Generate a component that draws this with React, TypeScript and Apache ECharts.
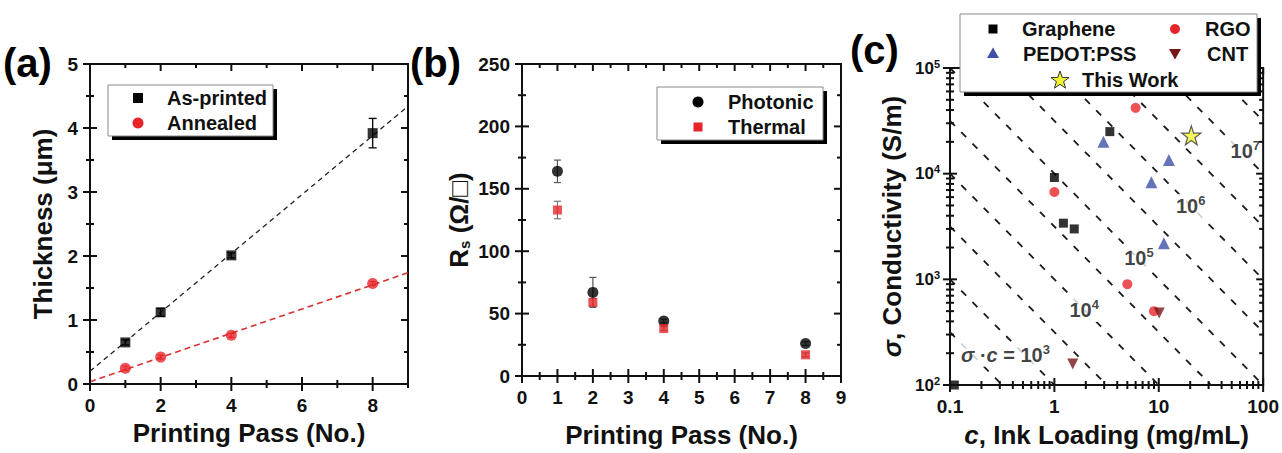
import React, { useEffect, useRef } from "react";
import * as echarts from "echarts";

const FONT = '"Liberation Sans", Arial, Helvetica, sans-serif';
const INK = "#111";
const RED = "#e6252a";
const BLUE = "#3f51a8";
const DARKRED = "#7a1518";
const YELLOW = "#f3f235";

// ---------- Panel (a): thickness vs printing pass ----------
const passA = [1, 2, 4, 8];
const asPrinted = [0.65, 1.12, 2.01, 3.92];
const asPrintedErr = [0.04, 0.06, 0.04, 0.23];
const annealed = [0.245, 0.42, 0.76, 1.57];
const annealedErr = [0.03, 0.03, 0.03, 0.03];
const fitAsPrinted = [
  [0, 0.2],
  [9, 4.34],
];
const fitAnnealed = [
  [0, 0.035],
  [9, 1.74],
];
const ticksAx = [0, 1, 2, 3, 4, 5, 6, 7, 8, 9];
const majorsAx = [0, 2, 4, 6, 8];
const ticksAy = [0, 0.5, 1, 1.5, 2, 2.5, 3, 3.5, 4, 4.5, 5];
const majorsAy = [0, 1, 2, 3, 4, 5];

// ---------- Panel (b): sheet resistance vs printing pass ----------
const passB = [1, 2, 4, 8];
const photonic = [164, 67, 44, 26];
const photonicErr = [9, 12, 1.5, 1.5];
const thermal = [133, 59, 38, 17];
const thermalErr = [7, 3, 1.5, 1.5];
const ticksBx = [0, 0.5, 1, 1.5, 2, 2.5, 3, 3.5, 4, 4.5, 5, 5.5, 6, 6.5, 7, 7.5, 8, 8.5, 9];
const majorsBx = [0, 1, 2, 3, 4, 5, 6, 7, 8, 9];
const ticksBy = [0, 25, 50, 75, 100, 125, 150, 175, 200, 225, 250];
const majorsBy = [0, 50, 100, 150, 200, 250];

// ---------- Panel (c): conductivity vs ink loading ----------
const graphene = [
  [0.11, 100],
  [1, 9200],
  [1.22, 3400],
  [1.55, 3000],
  [3.4, 25000],
];
const rgo = [
  [1, 6700],
  [6.0, 42000],
  [5.0, 900],
  [9.0, 500],
];
const pedot = [
  [2.95, 20000],
  [8.5, 8300],
  [12.5, 13500],
  [11.2, 2200],
];
const cnt = [
  [10.1, 480],
  [1.5, 158],
];
const thisWork = [[20.5, 23000]];
// exponents (plot units) of the iso sigma*c guide lines
const guideExponents = [1.5, 2, 2.5, 3, 3.5, 4, 4.5, 5, 5.5, 6, 6.5];
const guideLabelText = [
  "{i|σ}{t| ·}{i|c}{t| = 10}{sup|3}",
  "{t|10}{sup|4}",
  "{t|10}{sup|5}",
  "{t|10}{sup|6}",
  "{t|10}{sup|7}",
];
const guideLabelPos = [
  [0.34, 193],
  [1.93, 513],
  [6.45, 1590],
  [20.2, 4940],
  [67.4, 16400],
];
const cDecades = [0.1, 1, 10, 100];
const sigmaDecades = [100, 1000, 10000, 100000];
const logMinorMultipliers = [2, 3, 4, 5, 6, 7, 8, 9];

const STAR =
  "path://M50,0 L61.8,35.4 L99,35.4 L69,57.3 L80.3,92.7 L50,70.8 L19.7,92.7 L31,57.3 L1,35.4 L38.2,35.4 Z";

const tickLabel = {
  color: INK,
  fontFamily: FONT,
  fontWeight: "bold" as const,
  fontSize: 19,
};
const nameStyle = {
  color: INK,
  fontFamily: FONT,
  fontWeight: "bold" as const,
  fontSize: 26,
};

function makeAxis(dim: "x" | "y", o: any) {
  const ax: any = {
    type: o.type || "value",
    gridIndex: o.grid,
    position: dim === "x" ? "bottom" : "left",
    min: o.min,
    max: o.max,
    axisLine: { show: true, onZero: false, lineStyle: { color: INK, width: 2 } },
    axisTick: { show: false },
    minorTick: { show: false },
    splitLine: { show: false },
    minorSplitLine: { show: false },
    axisLabel: { show: true, margin: o.labelMargin ?? 12, ...tickLabel, ...(o.label || {}) },
    name: o.name,
    nameLocation: "middle",
    nameGap: o.nameGap,
    nameTextStyle: { ...nameStyle, ...(o.nameStyle || {}) },
  };
  if (o.type === "log") ax.logBase = 10;
  else ax.interval = o.interval;
  return ax;
}

// axis ticks placed through the axis scales: crossing on left/bottom, inward on top/right
function tickSeries(
  ai: number,
  dim: "x" | "y",
  values: number[],
  majors: number[],
  otherMin: number,
  otherMax: number
) {
  return {
    type: "custom",
    xAxisIndex: ai,
    yAxisIndex: ai,
    silent: true,
    clip: false,
    z: 8,
    encode: { x: 0, y: 1 },
    data: values.map((v) => (dim === "x" ? [v, otherMin] : [otherMin, v])),
    renderItem: (_p: any, api: any) => {
      const v = api.value(dim === "x" ? 0 : 1);
      const isMajor = majors.indexOf(v) >= 0;
      const L = isMajor ? 7 : 4;
      const st = { stroke: INK, lineWidth: 2 };
      if (dim === "x") {
        const b = api.coord([v, otherMin]);
        const t = api.coord([v, otherMax]);
        return {
          type: "group",
          children: [
            { type: "line", shape: { x1: b[0], y1: b[1] - L, x2: b[0], y2: b[1] + L }, style: st },
            { type: "line", shape: { x1: t[0], y1: t[1], x2: t[0], y2: t[1] + L }, style: { ...st } },
          ],
        };
      }
      const l = api.coord([otherMin, v]);
      const r = api.coord([otherMax, v]);
      return {
        type: "group",
        children: [
          { type: "line", shape: { x1: l[0] - L, y1: l[1], x2: l[0] + L, y2: l[1] }, style: st },
          { type: "line", shape: { x1: r[0] - L, y1: r[1], x2: r[0], y2: r[1] }, style: { ...st } },
        ],
      };
    },
  };
}

function errSeries(
  ai: number,
  xs: number[],
  ys: number[],
  errs: number[],
  color: string,
  width: number,
  cap: number
) {
  return {
    type: "custom",
    xAxisIndex: ai,
    yAxisIndex: ai,
    silent: true,
    z: 3,
    encode: { x: 0, y: [1, 2] },
    data: xs.map((x, i) => [x, ys[i] - errs[i], ys[i] + errs[i]]),
    renderItem: (_p: any, api: any) => {
      const x = api.value(0);
      const lo = api.coord([x, api.value(1)]);
      const hi = api.coord([x, api.value(2)]);
      const st = { stroke: color, lineWidth: width };
      return {
        type: "group",
        children: [
          { type: "line", shape: { x1: lo[0], y1: lo[1], x2: hi[0], y2: hi[1] }, style: st },
          { type: "line", shape: { x1: lo[0] - cap, y1: lo[1], x2: lo[0] + cap, y2: lo[1] }, style: st },
          { type: "line", shape: { x1: hi[0] - cap, y1: hi[1], x2: hi[0] + cap, y2: hi[1] }, style: st },
        ],
      };
    },
  };
}

function legendBox(x: number, y: number, w: number, h: number) {
  return [
    { type: "rect", z: 100, shape: { x: x + 4, y: y + 4, width: w, height: h }, style: { fill: "#000" } },
    {
      type: "rect",
      z: 101,
      shape: { x, y, width: w, height: h },
      style: { fill: "#fff", stroke: "#8a8a8a", lineWidth: 1 },
    },
  ];
}

function legendText(text: string, x: number, y: number) {
  return {
    type: "text",
    z: 102,
    style: {
      text,
      x,
      y,
      fill: INK,
      font: `bold 20px ${FONT}`,
      textAlign: "left",
      textVerticalAlign: "middle",
    },
  };
}

function starPoints(cx: number, cy: number, R: number) {
  const pts: number[][] = [];
  for (let i = 0; i < 10; i++) {
    const r = i % 2 === 0 ? R : R * 0.4;
    const a = -Math.PI / 2 + (i * Math.PI) / 5;
    pts.push([cx + r * Math.cos(a), cy + r * Math.sin(a)]);
  }
  return pts;
}

function logTicks(decades: number[]) {
  const out: number[] = [...decades];
  decades.slice(0, -1).forEach((d) => logMinorMultipliers.forEach((m) => out.push(m * d)));
  return out;
}

function buildOption(): any {
  const xAxis = [
    makeAxis("x", {
      grid: 0,
      min: 0,
      max: 9,
      interval: 2,
      name: "Printing Pass (No.)",
      nameGap: 36,
      label: { showMaxLabel: false },
    }),
    makeAxis("x", { grid: 1, min: 0, max: 9, interval: 1, name: "Printing Pass (No.)", nameGap: 46 }),
    makeAxis("x", {
      grid: 2,
      type: "log",
      min: 0.1,
      max: 100,
      name: "{i|c}, Ink Loading (mg/mL)",
      nameGap: 37,
      nameStyle: {
        rich: { i: { fontFamily: FONT, fontWeight: "bold", fontStyle: "italic", fontSize: 26, color: INK } },
      },
      label: {
        formatter: (v: number) => (v >= 1 ? String(Math.round(v)) : String(Number(v.toPrecision(2)))),
      },
    }),
  ];
  const yAxis = [
    makeAxis("y", { grid: 0, min: 0, max: 5, interval: 1, name: "Thickness (μm)", nameGap: 34 }),
    makeAxis("y", {
      grid: 1,
      min: 0,
      max: 250,
      interval: 50,
      name: "R{sub|s} (Ω/□)",
      nameGap: 50,
      nameStyle: {
        rich: {
          sub: { fontFamily: FONT, fontWeight: "bold", fontSize: 15, color: INK, verticalAlign: "bottom", lineHeight: 14 },
        },
      },
    }),
    makeAxis("y", {
      grid: 2,
      type: "log",
      min: 100,
      max: 100000,
      labelMargin: 10,
      name: "{i|σ}, Conductivity (S/m)",
      nameGap: 45,
      nameStyle: {
        rich: { i: { fontFamily: FONT, fontWeight: "bold", fontStyle: "italic", fontSize: 26, color: INK } },
      },
      label: {
        formatter: (v: number) => `{b|10}{s|${Math.round(Math.log10(v))}}`,
        rich: {
          b: { fontFamily: FONT, fontWeight: "bold", fontSize: 17, color: INK, lineHeight: 20 },
          s: { fontFamily: FONT, fontWeight: "bold", fontSize: 11, color: INK, lineHeight: 11, verticalAlign: "top" },
        },
      },
    }),
  ];

  const series: any[] = [];

  series.push(
    tickSeries(0, "x", ticksAx, majorsAx, 0, 5),
    tickSeries(0, "y", ticksAy, majorsAy, 0, 9),
    tickSeries(1, "x", ticksBx, majorsBx, 0, 250),
    tickSeries(1, "y", ticksBy, majorsBy, 0, 9),
    tickSeries(2, "x", logTicks(cDecades), cDecades, 100, 100000),
    tickSeries(2, "y", logTicks(sigmaDecades), sigmaDecades, 0.1, 100)
  );

  // Panel (a)
  series.push(
    {
      type: "line",
      xAxisIndex: 0,
      yAxisIndex: 0,
      data: fitAsPrinted,
      symbol: "none",
      silent: true,
      z: 1,
      lineStyle: { color: "#222", width: 1.3, type: [5, 4] },
    },
    {
      type: "line",
      xAxisIndex: 0,
      yAxisIndex: 0,
      data: fitAnnealed,
      symbol: "none",
      silent: true,
      z: 1,
      lineStyle: { color: "#d8302f", width: 1.6, type: [6, 4] },
    },
    errSeries(0, passA, asPrinted, asPrintedErr, INK, 1.4, 4),
    errSeries(0, passA, annealed, annealedErr, RED, 1.2, 3),
    {
      name: "As-printed",
      type: "scatter",
      xAxisIndex: 0,
      yAxisIndex: 0,
      symbol: "rect",
      symbolSize: 10,
      itemStyle: { color: "#000" },
      z: 5,
      data: passA.map((x, i) => [x, asPrinted[i]]),
    },
    {
      name: "Annealed",
      type: "scatter",
      xAxisIndex: 0,
      yAxisIndex: 0,
      symbol: "circle",
      symbolSize: 11,
      itemStyle: { color: RED },
      z: 5,
      data: passA.map((x, i) => [x, annealed[i]]),
    }
  );

  // Panel (b)
  series.push(
    errSeries(1, passB, photonic, photonicErr, "#555", 1.2, 3.5),
    errSeries(1, passB, thermal, thermalErr, "#777", 1.2, 3.5),
    {
      name: "Photonic",
      type: "scatter",
      xAxisIndex: 1,
      yAxisIndex: 1,
      symbol: "circle",
      symbolSize: 11,
      itemStyle: { color: "#000" },
      z: 5,
      data: passB.map((x, i) => [x, photonic[i]]),
    },
    {
      name: "Thermal",
      type: "scatter",
      xAxisIndex: 1,
      yAxisIndex: 1,
      symbol: "rect",
      symbolSize: 9,
      itemStyle: { color: RED },
      z: 6,
      data: passB.map((x, i) => [x, thermal[i]]),
    }
  );

  // Panel (c) iso sigma*c guide lines
  guideExponents.forEach((e) => {
    const k = Math.pow(10, e);
    series.push({
      type: "line",
      xAxisIndex: 2,
      yAxisIndex: 2,
      symbol: "none",
      silent: true,
      clip: true,
      z: 1,
      lineStyle: { color: "#1a1a1a", width: 1.8, type: [7, 9] },
      data: [
        [0.1, k / 0.1],
        [100, k / 100],
      ],
    });
  });

  // guide labels
  series.push({
    type: "scatter",
    xAxisIndex: 2,
    yAxisIndex: 2,
    symbolSize: 1,
    itemStyle: { color: "rgba(0,0,0,0)" },
    silent: true,
    z: 7,
    data: guideLabelPos.map((p, i) => ({ value: p, label: { formatter: guideLabelText[i] } })),
    label: {
      show: true,
      position: "inside",
      color: INK,
      textBorderWidth: 0,
      backgroundColor: "#fff",
      padding: [0, 2],
      rich: {
        t: { fontFamily: FONT, fontWeight: "bold", fontSize: 20, color: INK, lineHeight: 24, textBorderWidth: 0 },
        i: { fontFamily: FONT, fontWeight: "bold", fontStyle: "italic", fontSize: 20, color: INK, lineHeight: 24, textBorderWidth: 0 },
        sup: { fontFamily: FONT, fontWeight: "bold", fontSize: 13, color: INK, lineHeight: 13, verticalAlign: "top", textBorderWidth: 0 },
      },
    },
  });

  // Panel (c) data
  series.push(
    {
      name: "Graphene",
      type: "scatter",
      xAxisIndex: 2,
      yAxisIndex: 2,
      symbol: "rect",
      symbolSize: 9,
      clip: false,
      z: 5,
      itemStyle: { color: "#000" },
      data: graphene,
    },
    {
      name: "RGO",
      type: "scatter",
      xAxisIndex: 2,
      yAxisIndex: 2,
      symbol: "circle",
      symbolSize: 10,
      z: 5,
      itemStyle: { color: RED },
      data: rgo,
    },
    {
      name: "PEDOT:PSS",
      type: "scatter",
      xAxisIndex: 2,
      yAxisIndex: 2,
      symbol: "triangle",
      symbolSize: 12,
      z: 5,
      itemStyle: { color: BLUE },
      data: pedot,
    },
    {
      name: "CNT",
      type: "scatter",
      xAxisIndex: 2,
      yAxisIndex: 2,
      symbol: "triangle",
      symbolRotate: 180,
      symbolSize: 11,
      z: 6,
      itemStyle: { color: DARKRED },
      data: cnt,
    },
    {
      name: "This Work",
      type: "scatter",
      xAxisIndex: 2,
      yAxisIndex: 2,
      symbol: STAR,
      symbolSize: 19,
      z: 6,
      itemStyle: { color: YELLOW, borderColor: "#333", borderWidth: 1.2 },
      data: thisWork,
    }
  );

  const panelLabel = (t: string, x: number, y: number) => ({
    type: "text",
    z: 110,
    style: { text: t, x, y, fill: "#000", font: `bold 40px ${FONT}`, textAlign: "left", textVerticalAlign: "middle" },
  });

  const graphic: any[] = [
    panelLabel("(a)", 3, 63),
    panelLabel("(b)", 410, 63),
    panelLabel("(c)", 850, 50),
    // legend (a)
    ...legendBox(108, 85, 165, 51),
    { type: "rect", z: 102, shape: { x: 133, y: 93, width: 10, height: 10 }, style: { fill: "#000" } },
    { type: "circle", z: 102, shape: { cx: 138, cy: 123, r: 5.5 }, style: { fill: RED } },
    legendText("As-printed", 167, 98),
    legendText("Annealed", 167, 123),
    // legend (b)
    ...legendBox(657, 87, 166, 53),
    { type: "circle", z: 102, shape: { cx: 698, cy: 102, r: 5.5 }, style: { fill: "#000" } },
    { type: "rect", z: 102, shape: { x: 693.5, y: 122.5, width: 9, height: 9 }, style: { fill: RED } },
    legendText("Photonic", 728, 102),
    legendText("Thermal", 728, 127),
    // legend (c)
    ...legendBox(960, 14, 297, 78),
    { type: "rect", z: 102, shape: { x: 988.5, y: 24.5, width: 9, height: 9 }, style: { fill: "#000" } },
    legendText("Graphene", 1022, 29),
    { type: "circle", z: 102, shape: { cx: 1175, cy: 29, r: 5 }, style: { fill: RED } },
    legendText("RGO", 1205, 29),
    { type: "polygon", z: 102, shape: { points: [[993, 47.5], [999, 58], [987, 58]] }, style: { fill: BLUE } },
    legendText("PEDOT:PSS", 1023, 54),
    { type: "polygon", z: 102, shape: { points: [[1169, 49], [1181, 49], [1175, 59.5]] }, style: { fill: DARKRED } },
    legendText("CNT", 1207, 54),
    {
      type: "polygon",
      z: 102,
      shape: { points: starPoints(1060, 80.5, 9.5) },
      style: { fill: YELLOW, stroke: "#333", lineWidth: 1 },
    },
    legendText("This Work", 1082, 80),
  ];

  const frame = { show: true, borderColor: INK, borderWidth: 2, backgroundColor: "transparent" };

  return {
    animation: false,
    grid: [
      { ...frame, left: 90, top: 64, width: 318, height: 320 },
      { ...frame, left: 522, top: 64, width: 319, height: 320 },
      { ...frame, left: 950, top: 68, width: 315, height: 317 },
    ],
    xAxis,
    yAxis,
    series,
    graphic,
  };
}

export default function App() {
  const ref = useRef<HTMLDivElement>(null);
  useEffect(() => {
    if (!ref.current) return;
    const chart = echarts.init(ref.current, undefined, { renderer: "svg" });
    chart.setOption(buildOption());
    return () => chart.dispose();
  }, []);
  return (
    <div
      ref={ref}
      style={{ position: "absolute", left: 0, top: 0, width: 1282, height: 453, background: "#fff" }}
    />
  );
}
